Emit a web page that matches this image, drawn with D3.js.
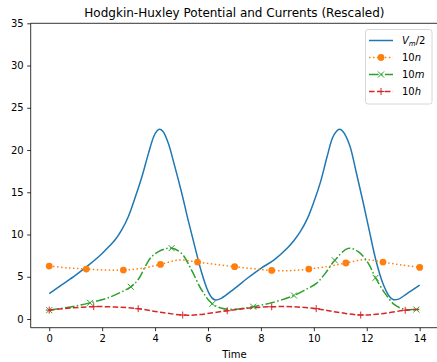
<!DOCTYPE html>
<html><head><meta charset="utf-8">
<script src="https://cdn.jsdelivr.net/npm/d3@7"></script>
<style>body{margin:0;background:#fff}svg{display:block;font-family:"DejaVu Sans",sans-serif}</style>
</head><body><svg id="c" width="437" height="362"></svg>
<script>
// ---- data ----
const vTime = [0,0.5,1,1.5,2,2.25,2.5,2.75,3,3.25,3.5,3.75,3.95,4.07,4.17,4.3,4.5,4.75,5.0,5.25,5.5,5.75,6.0,6.15,6.28,6.5,7,7.5,8,8.5,9,9.25,9.5,9.75,10,10.25,10.5,10.7,10.85,10.97,11.1,11.35,11.6,11.85,12.1,12.35,12.6,12.85,13.0,13.2,13.5,14];
const vHalf = [3.0,4.1,5.2,6.4,7.75,8.55,9.4,10.6,12.2,14.4,16.8,19.6,21.6,22.25,22.45,22.2,20.8,18.0,15.0,11.7,8.6,5.6,3.3,2.5,2.25,2.45,3.6,4.85,6.0,7.0,8.4,9.3,10.4,11.85,13.85,16.2,19.2,21.4,22.2,22.45,22.2,20.6,17.4,14.0,10.4,6.9,4.3,2.7,2.3,2.35,2.95,4.0];

const nTime = [0,0.7,1.4,2.1,2.8,3.5,4.2,4.9,5.6,6.3,7.0,7.7,8.4,9.1,9.8,10.5,11.2,11.9,12.6,13.3,14];
const n10   = [6.27,6.05,5.91,5.8,5.79,6.0,6.46,6.98,6.74,6.45,6.19,5.95,5.75,5.72,5.91,6.2,6.62,7.02,6.74,6.4,6.11];

const mTime = [0,0.75,1.5,2.3,3.05,3.24,3.43,3.62,3.87,4.25,4.6,5.0,5.38,5.76,6.14,6.52,7.02,7.71,8.5,9.2,9.7,10.1,10.43,10.8,11.3,11.68,12.06,12.31,12.69,13.06,13.44,13.82,14];
const m10   = [1.05,1.4,1.88,2.6,3.75,4.22,5.0,6.18,7.37,8.16,8.4,7.77,5.79,3.43,1.86,1.27,1.15,1.46,2.0,2.72,3.5,4.22,5.4,6.98,8.36,7.96,6.59,5.0,3.04,1.66,1.15,1.12,1.12];

const hTime = [0,0.8,1.68,2.5,3.36,4.2,5.04,5.6,6.73,7.6,8.41,9.2,10.09,10.9,11.77,12.5,13.45,14];
const h10   = [1.05,1.3,1.46,1.42,1.22,0.8,0.47,0.5,0.98,1.3,1.45,1.45,1.22,0.8,0.47,0.6,1.03,1.15];

// marker sample times (every 100th / 110th / 120th of the 1000 samples)
const nMarks = [0,1.401,2.803,4.204,5.606,7.007,8.408,9.810,11.211,12.613,14.0];
const mMarks = [0,1.542,3.083,4.625,6.166,7.708,9.249,10.791,12.332,13.874];
const hMarks = [0,1.682,3.363,5.045,6.727,8.408,10.090,11.772,13.453];

const xTicks = [0,2,4,6,8,10,12,14];
const yTicks = [0,5,10,15,20,25,30,35];
const title = "Hodgkin-Huxley Potential and Currents (Rescaled)";
const xLabel = "Time";

// ---- layout ----
const L = 30.7, R = 438.2, T = 23.3, B = 327.7;
const x = d3.scaleLinear().domain([-0.7, 14.7]).range([L, R]);
const y = d3.scaleLinear().domain([-1.03, 35]).range([B, T]);
const svg = d3.select("#c");

svg.append("defs").append("clipPath").attr("id","clip")
  .append("rect").attr("x",L).attr("y",T).attr("width",R-L).attr("height",B-T);

const gx = svg.append("g").attr("transform",`translate(0,${B})`)
  .call(d3.axisBottom(x).tickValues(xTicks).tickSize(3.5).tickPadding(3.5).tickFormat(d3.format("d")));
const gy = svg.append("g").attr("transform",`translate(${L},0)`)
  .call(d3.axisLeft(y).tickValues(yTicks).tickSize(3.5).tickPadding(3.5).tickFormat(d3.format("d")));
[gx,gy].forEach(g=>{
  g.select(".domain").remove();
  g.selectAll(".tick line").attr("stroke","#000").attr("stroke-width",0.8);
  g.selectAll(".tick text").attr("font-size",10).attr("font-family","DejaVu Sans").attr("fill","#000");
});
// spines
svg.append("line").attr("x1",L).attr("x2",L).attr("y1",T).attr("y2",B).attr("stroke","#000").attr("stroke-width",0.8);
svg.append("line").attr("x1",L).attr("x2",R).attr("y1",B).attr("y2",B).attr("stroke","#000").attr("stroke-width",0.8);
svg.append("line").attr("x1",L).attr("x2",R).attr("y1",T).attr("y2",T).attr("stroke","#000").attr("stroke-width",0.8);
svg.append("line").attr("x1",R).attr("x2",R).attr("y1",T).attr("y2",B).attr("stroke","#000").attr("stroke-width",0.8);

svg.append("text").attr("x",(L+R)/2).attr("y",17).attr("text-anchor","middle")
  .attr("font-size",12).text(title);
svg.append("text").attr("x",(L+R)/2).attr("y",358).attr("text-anchor","middle")
  .attr("font-size",10).text(xLabel);

const plot = svg.append("g").attr("clip-path","url(#clip)");
const line = d3.line().x(d=>x(d[0])).y(d=>y(d[1])).curve(d3.curveCatmullRom.alpha(0.5));

function pointAtX(node, tx){
  const px = x(tx); let lo=0, hi=node.getTotalLength();
  for(let i=0;i<40;i++){ const mid=(lo+hi)/2; if(node.getPointAtLength(mid).x<px) lo=mid; else hi=mid; }
  return node.getPointAtLength((lo+hi)/2);
}

const series = [
  {t:vTime, v:vHalf, color:"#1f77b4", dash:null, marks:[], marker:null},
  {t:nTime, v:n10, color:"#ff7f0e", dash:"1.5,2.475", marks:nMarks, marker:"o"},
  {t:mTime, v:m10, color:"#2ca02c", dash:"9.6,2.4,1.5,2.4", marks:mMarks, marker:"x"},
  {t:hTime, v:h10, color:"#d62728", dash:"5.55,2.4", marks:hMarks, marker:"+"}
];

function drawMarker(g, kind, cx, cy, color){
  if(kind==="o") g.append("circle").attr("cx",cx).attr("cy",cy).attr("r",3.4).attr("fill",color);
  else if(kind==="x") g.append("path").attr("d",`M${cx-3},${cy-3}L${cx+3},${cy+3}M${cx-3},${cy+3}L${cx+3},${cy-3}`).attr("stroke",color).attr("stroke-width",1).attr("fill","none");
  else if(kind==="+") g.append("path").attr("d",`M${cx-3.5},${cy}L${cx+3.5},${cy}M${cx},${cy-3.5}L${cx},${cy+3.5}`).attr("stroke",color).attr("stroke-width",1).attr("fill","none");
}

series.forEach(s=>{
  const p = plot.append("path").datum(s.t.map((t,i)=>[t,s.v[i]])).attr("d",line)
    .attr("fill","none").attr("stroke",s.color).attr("stroke-width",1.5)
    .attr("stroke-dasharray",s.dash);
  const node = p.node();
  s.marks.forEach(mt=>{ const pt=pointAtX(node, mt); drawMarker(plot, s.marker, pt.x, pt.y, s.color); });
});

// legend
const lg = svg.append("g");
lg.append("rect").attr("x",365.5).attr("y",29.5).attr("width",66.5).attr("height",74.5).attr("rx",2.5)
  .attr("fill","#fff").attr("fill-opacity",0.8).attr("stroke","#cccccc").attr("stroke-width",0.8);
const rowsY = [40.5,57.5,74.5,91.5];
series.forEach((s,i)=>{
  const yy = rowsY[i];
  lg.append("line").attr("x1",369).attr("x2",393).attr("y1",yy).attr("y2",yy)
    .attr("stroke",s.color).attr("stroke-width",1.5).attr("stroke-dasharray",s.dash);
  if(s.marker) drawMarker(lg, s.marker, 381, yy, s.color);
});
function legText(i, parts){
  const t = lg.append("text").attr("x",402).attr("y",rowsY[i]+3.6).attr("font-size",10);
  parts.forEach(p=>{
    const ts = t.append("tspan").text(p.s);
    if(p.i) ts.attr("font-style","italic");
    if(p.sub) ts.attr("font-size",7).attr("dy",2);
    if(p.up) ts.attr("dy",-2);
  });
}
legText(0,[{s:"V",i:1},{s:"m",i:1,sub:1},{s:"/2",up:1}]);
legText(1,[{s:"10"},{s:"n",i:1}]);
legText(2,[{s:"10"},{s:"m",i:1}]);
legText(3,[{s:"10"},{s:"h",i:1}]);
</script></body></html>
